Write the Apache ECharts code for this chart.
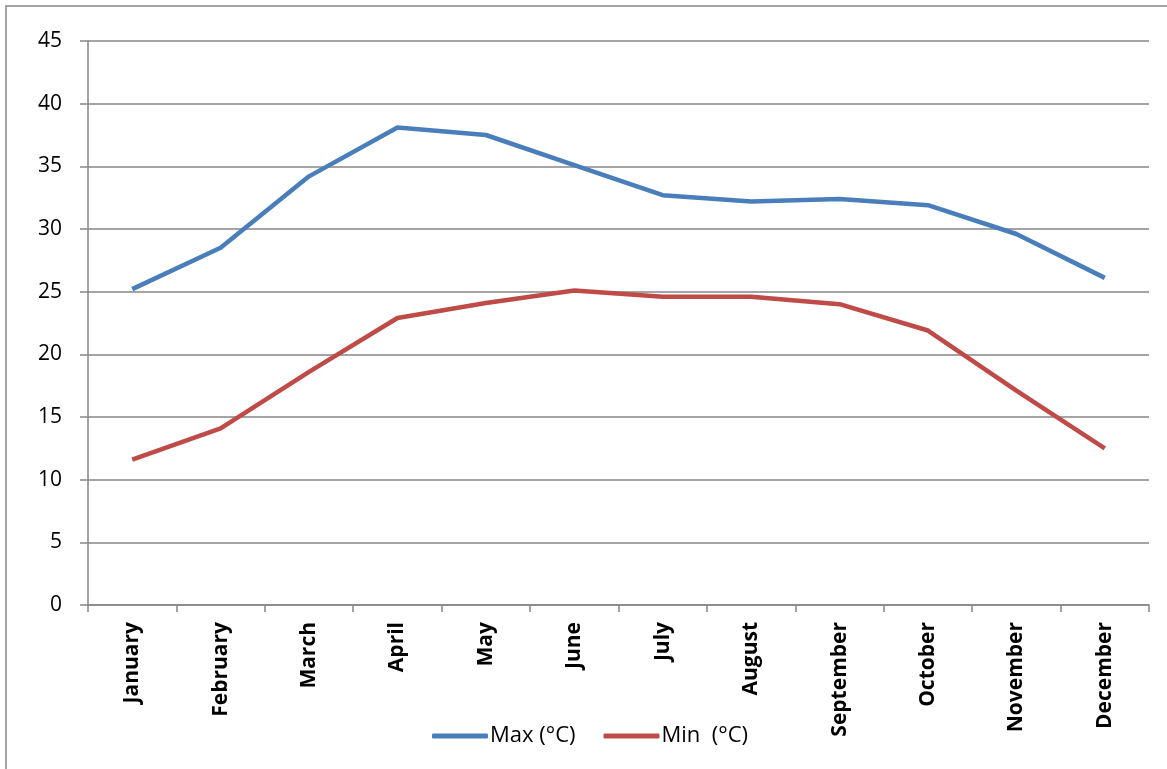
<!DOCTYPE html>
<html>
<head>
<meta charset="utf-8">
<script src="https://cdn.jsdelivr.net/npm/echarts@6/dist/echarts.min.js"></script>
<style>
  html, body { margin: 0; padding: 0; background: #fff; }
  #chart { width: 1167px; height: 769px; }
</style>
</head>
<body>
<div id="chart"></div>
<script>
var months = ['January', 'February', 'March', 'April', 'May', 'June', 'July', 'August', 'September', 'October', 'November', 'December'];
var maxTemp = [25.2, 28.5, 34.2, 38.1, 37.5, 35.1, 32.7, 32.2, 32.4, 31.9, 29.6, 26.1];
var minTemp = [11.6, 14.1, 18.6, 22.9, 24.1, 25.1, 24.6, 24.6, 24.0, 21.9, 17.1, 12.5];

var chart = echarts.init(document.getElementById('chart'));
var gray = '#868686';
var font = 'Open Sans';
var option = {
    animation: false,
    textStyle: { fontFamily: font },
    graphic: [{
        type: 'rect',
        shape: { x: 6, y: 6, width: 1200, height: 800 },
        style: { fill: 'none', stroke: gray, lineWidth: 1.5 },
        silent: true
    }],
    grid: { left: 88, top: 41, right: 18, bottom: 164 },
    legend: {
        left: 427,
        top: 720,
        itemWidth: 56,
        itemHeight: 5,
        itemGap: 28,
        icon: 'roundRect',
        textStyle: { fontSize: 22, color: '#000', fontFamily: font, padding: [0, 0, 0, -3] },
        data: ['Max (°C)', 'Min  (°C)']
    },
    xAxis: {
        type: 'category',
        data: months,
        boundaryGap: true,
        axisLine: { lineStyle: { color: gray, width: 1.5 } },
        axisTick: { show: true, length: 7, interval: 0, lineStyle: { color: gray, width: 1.5 } },
        axisLabel: {
            rotate: 90,
            interval: 0,
            margin: 17,
            fontSize: 21,
            fontWeight: 'bold',
            color: '#000',
            fontFamily: font
        }
    },
    yAxis: {
        type: 'value',
        min: 0,
        max: 45,
        interval: 5,
        axisLine: { show: true, lineStyle: { color: gray, width: 1.5 } },
        axisTick: { show: true, length: 8, lineStyle: { color: gray, width: 1.5 } },
        splitLine: { lineStyle: { color: gray, width: 1.5 } },
        axisLabel: { fontSize: 21, color: '#000', margin: 26, fontFamily: font }
    },
    series: [{
        name: 'Max (°C)',
        type: 'line',
        data: maxTemp,
        symbol: 'none',
        lineStyle: { color: '#4A7EBB', width: 4.5 },
        itemStyle: { color: '#4A7EBB' }
    }, {
        name: 'Min  (°C)',
        type: 'line',
        data: minTemp,
        symbol: 'none',
        lineStyle: { color: '#BE4B48', width: 4.5 },
        itemStyle: { color: '#BE4B48' }
    }]
};
chart.setOption(option);
</script>
</body>
</html>
